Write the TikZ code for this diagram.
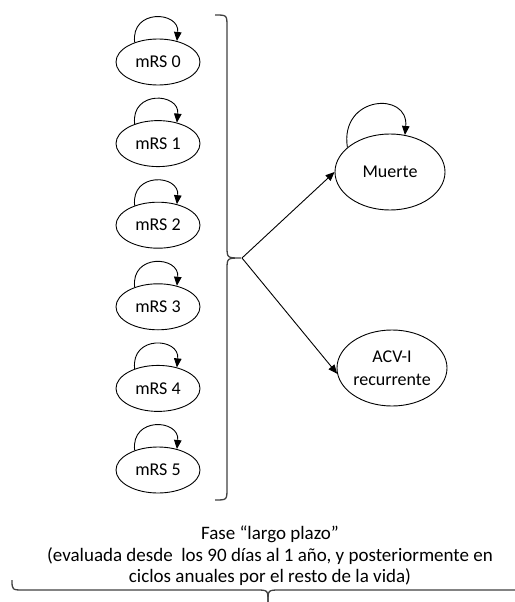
\documentclass[tikz,border=0pt]{standalone}
\usepackage{fontspec}
\setmainfont{Carlito}
\usetikzlibrary{arrows.meta,calc,shapes.geometric}
\tikzset{
  state/.style={draw, ellipse, line width=0.9pt, minimum width=84pt, minimum height=46pt, inner sep=0pt, font=\fontsize{18}{23}\selectfont, align=center},
  big/.style={state, minimum width=110pt, minimum height=76pt},
  arr/.style={-{Triangle[length=9pt,width=7.5pt]}, line width=0.9pt},
  brace/.style={line width=1.3pt, draw=black!75},
  lbl/.style={font=\fontsize{19}{21.5}\selectfont, align=center}
}
\begin{document}
\begin{tikzpicture}[x=1pt,y=-1pt]
\useasboundingbox (0,0) rectangle (514,602);
\foreach \i in {0,...,5}{
  \node[state] (m\i) at (158,{62+81.6*\i}) {mRS \i};
  \draw[arr] (m\i.140) .. controls +(-4,-34) and +(3,-30) .. (m\i.48);
}
\node[big] (muerte) at (390,172) {Muerte};
\node[big] (acv) at (392,368) {ACV-I\\recurrente};
\draw[arr] (muerte.150) .. controls +(-8,-52) and +(4,-44) .. (muerte.68);
% right brace
\draw[brace] (215,15) .. controls (227,15) .. (227,27) -- (227,246) .. controls (227,258) .. (241,258)
  .. controls (227,258) .. (227,270) -- (227,488) .. controls (227,500) .. (215,500);
\coordinate (tip) at (242,258);
\draw[arr] (tip) -- (muerte.west);
\draw[arr] (tip) -- (acv.186);
% bottom text
\node[lbl] (txt) at (270,556) {Fase “largo plazo”\\(evaluada desde \ los 90 días al 1 año, y posteriormente en\\ciclos anuales por el resto de la vida)};
% bottom brace
\draw[brace] (12,580) .. controls (12,590) .. (24,590) -- (256,590) .. controls (268,590) .. (268,602);
\draw[brace] (268,602) .. controls (268,590) .. (280,590) -- (520,590);
\end{tikzpicture}
\end{document}
